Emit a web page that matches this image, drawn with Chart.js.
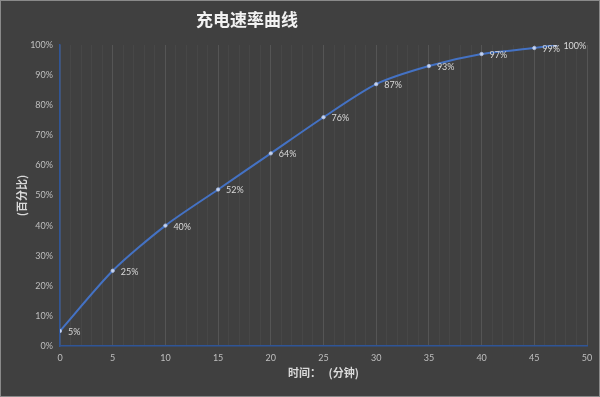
<!DOCTYPE html>
<html><head><meta charset="utf-8">
<script src="https://cdn.jsdelivr.net/npm/chart.js@4/dist/chart.umd.min.js"></script>
<style>html,body{margin:0;padding:0;background:#404040;overflow:hidden}#wrap{width:600px;height:397px;position:relative}</style>
</head><body><div id="wrap"><canvas id="c"></canvas></div>
<script>
const minutes = [0, 5, 10, 15, 20, 25, 30, 35, 40, 45, 47];
const percent = [5, 25, 40, 52, 64, 76, 87, 93, 97, 99, 100];
const xTicks = [0, 5, 10, 15, 20, 25, 30, 35, 40, 45, 50];
const chartTitle = '充电速率曲线';
const xTitle = '时间：   (分钟)';
const yTitle = '(百分比)';

const cjk = '"Noto Sans CJK SC", "Noto Sans", sans-serif';
const num = 'Lato, "Noto Sans", sans-serif';

const frame = {
  id: 'frame',
  beforeDraw(chart) {
    const c = chart.ctx;
    c.save();
    c.fillStyle = '#404040';
    c.fillRect(0, 0, chart.width, chart.height);
    c.strokeStyle = '#8a8a8a';
    c.lineWidth = 1;
    c.strokeRect(0.5, 0.5, chart.width - 1, chart.height - 1);
    c.restore();
  },
  afterDraw(chart) {
    const c = chart.ctx;
    c.save();
    c.fillStyle = '#f2f2f2';
    c.font = 'bold 17px ' + cjk;
    c.textAlign = 'center';
    c.textBaseline = 'middle';
    c.fillText(chartTitle, 247, 20);
    c.restore();
  }
};

const dataLabels = {
  id: 'dataLabels',
  afterDatasetsDraw(chart) {
    const c = chart.ctx;
    const meta = chart.getDatasetMeta(0);
    c.save();
    c.fillStyle = '#d9d9d9';
    c.font = '9px ' + num;
    c.textAlign = 'left';
    c.textBaseline = 'middle';
    meta.data.forEach((pt, i) => {
      c.fillText(percent[i] + '%', pt.x + 8, pt.y + 1);
    });
    c.restore();
  }
};

new Chart(document.getElementById('c'), {
  type: 'line',
  data: {
    datasets: [{
      data: minutes.map((m, i) => ({x: m, y: percent[i]})),
      borderColor: '#4472C4',
      borderWidth: 2,
      tension: 0.25,
      pointRadius: 1.7,
      pointBackgroundColor: '#c8d6f0',
      pointBorderColor: '#aabde4',
      pointBorderWidth: 0.8
    }]
  },
  options: {
    responsive: true,
    maintainAspectRatio: false,
    animation: false,
    layout: {padding: {top: 45, right: 13, bottom: 0, left: 0}},
    plugins: {legend: {display: false}, tooltip: {enabled: false}},
    scales: {
      x: {
        type: 'linear',
        min: 0, max: 50,
        afterFit(s) { s.height = 51; },
        ticks: {
          stepSize: 1, autoSkip: false, maxRotation: 0, minRotation: 0,
          callback: v => xTicks.includes(v) ? String(v) : '',
          color: '#bfbfbf', font: {family: num, size: 9}, padding: 7
        },
        grid: {
          color: ctx => (ctx.tick && ctx.tick.value % 5 === 0) ? '#555555' : '#474747',
          drawTicks: false, lineWidth: 1
        },
        border: {color: '#2f5597', width: 1.5},
        title: {display: true, text: xTitle, color: '#d9d9d9',
          font: {family: cjk, size: 11, weight: 'bold'}, padding: {top: 0, bottom: 18}}
      },
      y: {
        min: 0, max: 100,
        afterFit(s) { s.width = 60; },
        ticks: {stepSize: 10, callback: v => v + '%', color: '#bfbfbf',
          font: {family: num, size: 9}, padding: 7},
        grid: {display: false, drawTicks: false},
        border: {color: '#2f5597', width: 1.5},
        title: {display: true, text: yTitle, color: '#d9d9d9',
          font: {family: cjk, size: 11, weight: 'bold'}, padding: {top: 15, bottom: 0}}
      }
    }
  },
  plugins: [frame, dataLabels]
});
</script></body></html>
